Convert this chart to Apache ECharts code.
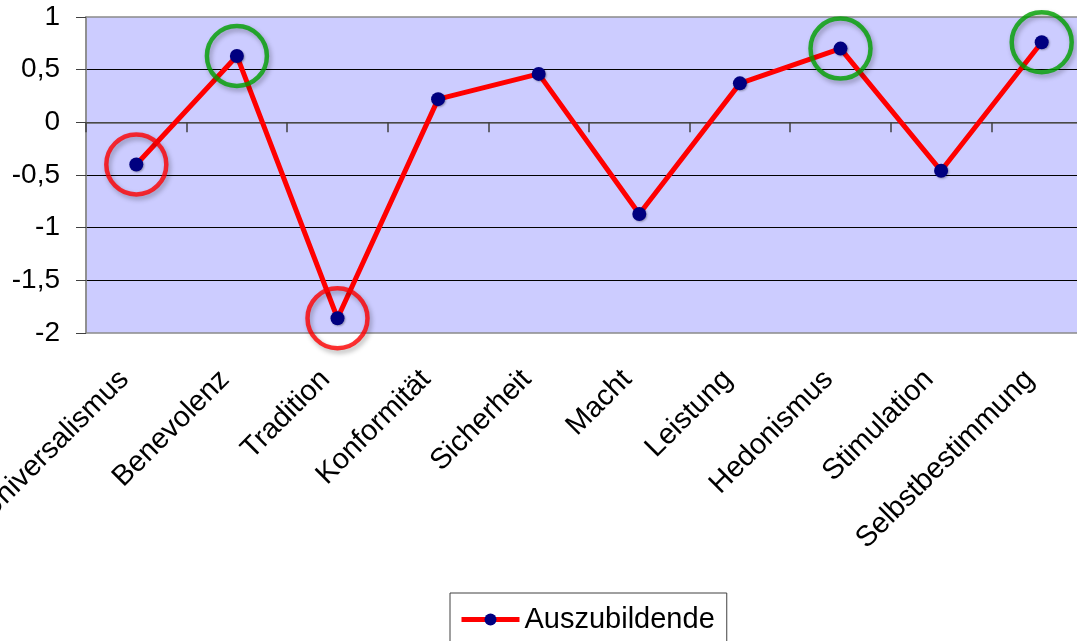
<!DOCTYPE html>
<html>
<head>
<meta charset="utf-8">
<script src="https://cdn.jsdelivr.net/npm/echarts@6/dist/echarts.min.js"></script>
<style>
  html, body { margin: 0; padding: 0; background: #ffffff; }
  #chart { width: 1077px; height: 641px; }
</style>
</head>
<body>
<div id="chart"></div>
<script>
// Werte-Dimensionen nach Schwartz
const categories = ['Universalismus', 'Benevolenz', 'Tradition', 'Konformität', 'Sicherheit',
                    'Macht', 'Leistung', 'Hedonismus', 'Stimulation', 'Selbstbestimmung'];
const seriesName = 'Auszubildende';
const values = [-0.40, 0.63, -1.86, 0.22, 0.46, -0.87, 0.37, 0.70, -0.46, 0.76];

// hervorgehobene Dimensionen (rot = niedrig, grün = hoch)
const markedLow = ['Universalismus', 'Tradition'];
const markedHigh = ['Benevolenz', 'Hedonismus', 'Selbstbestimmung'];

// y-Achse
const yMin = -2, yMax = 1, yStep = 0.5;

const FONT = '"Liberation Sans", Arial, sans-serif';

function pointsFor(names) {
  return names.map(n => [n, values[categories.indexOf(n)]]);
}

function ringSeries(names, color) {
  return {
    type: 'scatter',
    xAxisIndex: 0,
    data: pointsFor(names),
    symbol: 'circle',
    symbolSize: 60,
    silent: true,
    z: 5,
    itemStyle: {
      color: 'rgba(0,0,0,0)',
      borderColor: color,
      borderWidth: 4.5,
      shadowColor: 'rgba(0,0,0,0.35)',
      shadowBlur: 5,
      shadowOffsetX: 2,
      shadowOffsetY: 3
    }
  };
}

const chart = echarts.init(document.getElementById('chart'), null, { renderer: 'canvas' });

chart.setOption({
  animation: false,
  backgroundColor: '#ffffff',
  textStyle: { fontFamily: FONT },
  grid: {
    // die Zeichenfläche reicht rechts etwas über den Rand hinaus
    left: 86, top: 17, width: 1006, bottom: 308,
    outerBoundsMode: 'none',
    containLabel: false,
    show: true,
    backgroundColor: '#ccccff',
    borderColor: '#8a8a8a',
    borderWidth: 1.5
  },
  legend: {
    data: [seriesName],
    left: 450, top: 593,
    borderColor: '#404040',
    borderWidth: 1,
    borderRadius: 0,
    padding: [12, 12, 20, 9],
    itemWidth: 58,
    itemHeight: 15,
    itemGap: 6,
    lineStyle: { width: 5 },
    textStyle: { fontSize: 29, color: '#000000', fontFamily: FONT }
  },
  xAxis: [
    {
      // Kategorienbeschriftung unten
      type: 'category',
      data: categories,
      position: 'bottom',
      boundaryGap: true,
      axisLine: { show: false, onZero: false },
      axisTick: { show: false },
      splitLine: { show: false },
      axisLabel: {
        interval: 0,
        rotate: 45,
        margin: 30,
        padding: [0, 17, 0, 0],
        fontSize: 29,
        color: '#000000',
        fontFamily: FONT
      }
    },
    {
      // Nulllinie mit Teilstrichen
      type: 'category',
      data: categories,
      position: 'top',
      boundaryGap: true,
      axisLine: { show: true, onZero: true, lineStyle: { color: '#606060', width: 1.5 } },
      axisTick: { show: true, inside: true, length: 10, interval: 0, lineStyle: { color: '#404040', width: 1.5 } },
      axisLabel: { show: false },
      splitLine: { show: false }
    }
  ],
  yAxis: {
    type: 'value',
    min: yMin,
    max: yMax,
    interval: yStep,
    axisLine: { show: true, lineStyle: { color: '#8a8a8a', width: 1.5 } },
    axisTick: { show: true, length: 10, lineStyle: { color: '#404040', width: 1 } },
    splitLine: {
      show: true,
      showMinLine: false,
      showMaxLine: false,
      lineStyle: { color: '#000000', width: 1 }
    },
    axisLabel: {
      margin: 26,
      fontSize: 28,
      color: '#000000',
      fontFamily: FONT,
      formatter: v => String(v).replace('.', ',')
    }
  },
  series: [
    {
      name: seriesName,
      type: 'line',
      xAxisIndex: 0,
      data: values,
      symbol: 'circle',
      symbolSize: 14,
      z: 3,
      lineStyle: { color: '#ff0000', width: 5 },
      itemStyle: {
        color: '#000080',
        shadowColor: 'rgba(0,0,0,0.3)',
        shadowBlur: 2,
        shadowOffsetX: 1,
        shadowOffsetY: 1
      }
    },
    ringSeries(markedLow, '#ff0000'),
    ringSeries(markedHigh, '#00a000')
  ]
});
</script>
</body>
</html>
